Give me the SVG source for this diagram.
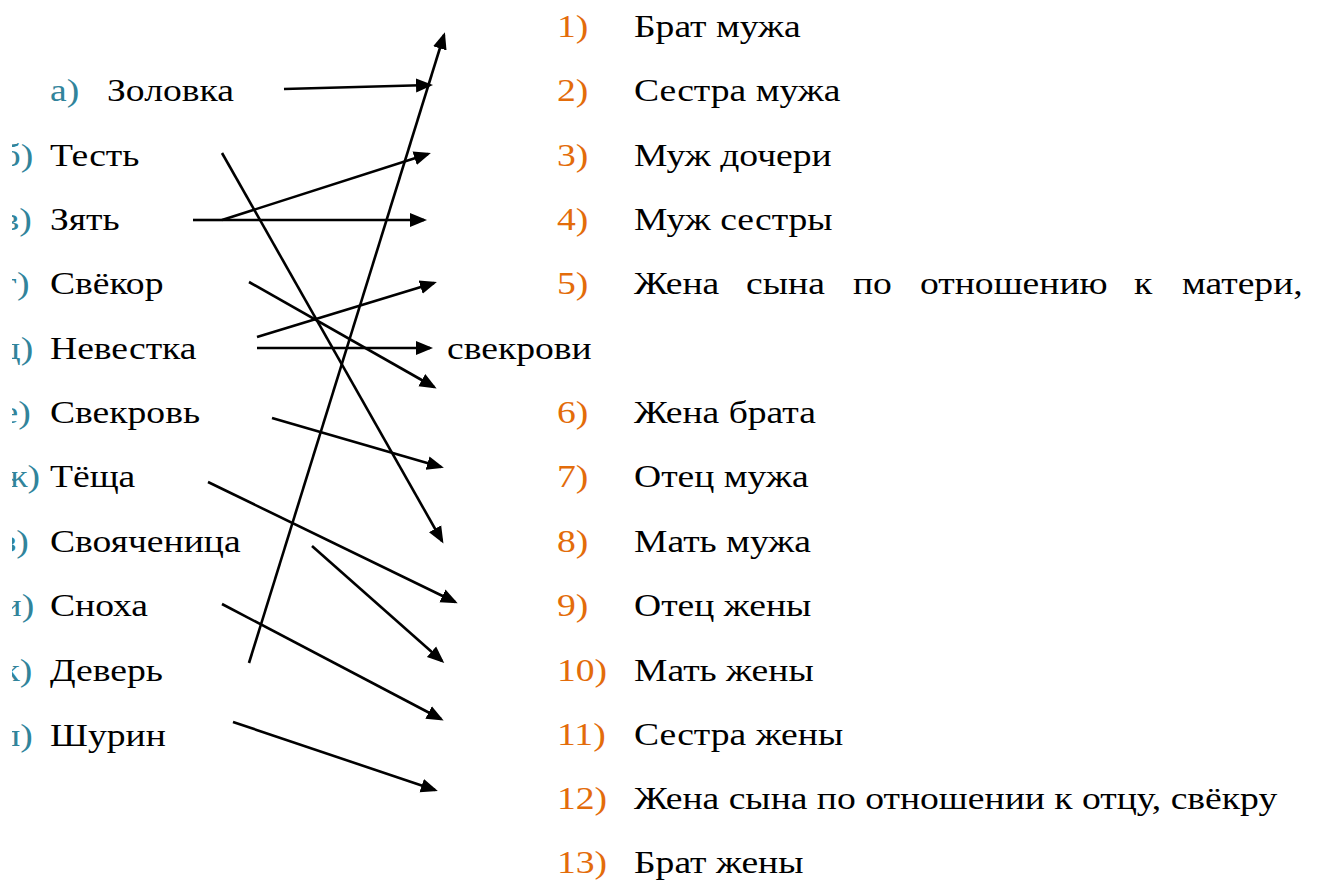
<svg xmlns="http://www.w3.org/2000/svg" width="1317" height="884" viewBox="0 0 1317 884">
<style>
text{font-family:"Liberation Serif","Times New Roman",serif;font-size:32px;fill:#000}
.lm{fill:#31849B}
.rn{fill:#E36C0A}
.c line{stroke:#000;stroke-width:2.6;fill:none}
.a{marker-end:url(#ah)}
</style>
<defs>
<marker id="ah" markerUnits="userSpaceOnUse" markerWidth="18" markerHeight="16" viewBox="0 0 18 16" refX="14" refY="8" orient="auto">
<path d="M0,1 L17,8 L0,15 z" fill="#000"/>
</marker>
<clipPath id="clipL"><rect x="10.2" y="0" width="120" height="884"/></clipPath>
</defs>
<rect width="1317" height="884" fill="#fff"/>

<g id="left" transform="scale(1.176 1)" font-family="Liberation Serif, Times New Roman, serif">
<g id="la"><text class="lm" x="42.5" y="101">а)</text><text x="91" y="101">Золовка</text></g>
<g id="lb"><text class="lm" x="1.3" y="166" clip-path="url(#clipL)">б)</text><text x="42.5" y="166">Тесть</text></g>
<g id="lv"><text class="lm" x="1.3" y="230" clip-path="url(#clipL)">в)</text><text x="42.5" y="230">Зять</text></g>
<g id="lg"><text class="lm" x="1.3" y="294" clip-path="url(#clipL)">г)</text><text x="42.5" y="294">Свёкор</text></g>
<g id="ld"><text class="lm" x="1.3" y="359" clip-path="url(#clipL)">д)</text><text x="42.5" y="359">Невестка</text></g>
<g id="le"><text class="lm" x="1.3" y="423" clip-path="url(#clipL)">е)</text><text x="42.5" y="423">Свекровь</text></g>
<g id="lzh"><text class="lm" x="1.3" y="487" clip-path="url(#clipL)">ж)</text><text x="42.5" y="487">Тёща</text></g>
<g id="lz"><text class="lm" x="1.3" y="552" clip-path="url(#clipL)">з)</text><text x="42.5" y="552">Свояченица</text></g>
<g id="li"><text class="lm" x="1.3" y="616" clip-path="url(#clipL)">и)</text><text x="42.5" y="616">Сноха</text></g>
<g id="lk"><text class="lm" x="1.3" y="681" clip-path="url(#clipL)">к)</text><text x="42.5" y="681">Деверь</text></g>
<g id="ll"><text class="lm" x="1.3" y="746" clip-path="url(#clipL)">л)</text><text x="42.5" y="746">Шурин</text></g>
</g>

<g id="right" transform="scale(1.176 1)" font-family="Liberation Serif, Times New Roman, serif">
<g id="r1"><text class="rn" x="473.6" y="37">1)</text><text x="539.1" y="37">Брат мужа</text></g>
<g id="r2"><text class="rn" x="473.6" y="101">2)</text><text x="539.1" y="101">Сестра мужа</text></g>
<g id="r3"><text class="rn" x="473.6" y="166">3)</text><text x="539.1" y="166">Муж дочери</text></g>
<g id="r4"><text class="rn" x="473.6" y="230">4)</text><text x="539.1" y="230">Муж сестры</text></g>
<g id="r5"><text class="rn" x="473.6" y="294">5)</text><text y="294"><tspan x="539.1">Жена</tspan><tspan x="634.4">сына</tspan><tspan x="725.3">по</tspan><tspan x="782.3">отношению</tspan><tspan x="964.3">к</tspan><tspan x="1005.1">матери,</tspan></text><text x="380.1" y="359">свекрови</text></g>
<g id="r6"><text class="rn" x="473.6" y="423">6)</text><text x="539.1" y="423">Жена брата</text></g>
<g id="r7"><text class="rn" x="473.6" y="487">7)</text><text x="539.1" y="487">Отец мужа</text></g>
<g id="r8"><text class="rn" x="473.6" y="552">8)</text><text x="539.1" y="552">Мать мужа</text></g>
<g id="r9"><text class="rn" x="473.6" y="616">9)</text><text x="539.1" y="616">Отец жены</text></g>
<g id="r10"><text class="rn" x="473.6" y="681">10)</text><text x="539.1" y="681">Мать жены</text></g>
<g id="r11"><text class="rn" x="473.6" y="745">11)</text><text x="539.1" y="745">Сестра жены</text></g>
<g id="r12"><text class="rn" x="473.6" y="809">12)</text><text x="539.1" y="809">Жена сына по отношении к отцу, свёкру</text></g>
<g id="r13"><text class="rn" x="473.6" y="873">13)</text><text x="539.1" y="873">Брат жены</text></g>
</g>

<g id="connectors" class="c">
<line class="a" x1="284" y1="89" x2="430" y2="85"/>
<line class="a" x1="249" y1="663" x2="444" y2="35"/>
<line class="a" x1="222" y1="220" x2="428" y2="154"/>
<line x1="193" y1="220" x2="222" y2="220"/>
<line class="a" x1="222" y1="220" x2="424" y2="220"/>
<line class="a" x1="222" y1="153" x2="442" y2="541"/>
<line class="a" x1="249" y1="282" x2="434" y2="387"/>
<line class="a" x1="257" y1="337" x2="434" y2="283"/>
<line class="a" x1="257" y1="348" x2="430" y2="348"/>
<line class="a" x1="272" y1="418" x2="441" y2="467"/>
<line class="a" x1="208" y1="482" x2="455" y2="602"/>
<line class="a" x1="312" y1="546" x2="442" y2="661"/>
<line class="a" x1="222" y1="604" x2="441" y2="719"/>
<line class="a" x1="233" y1="722" x2="435" y2="790"/>
</g>
</svg>
